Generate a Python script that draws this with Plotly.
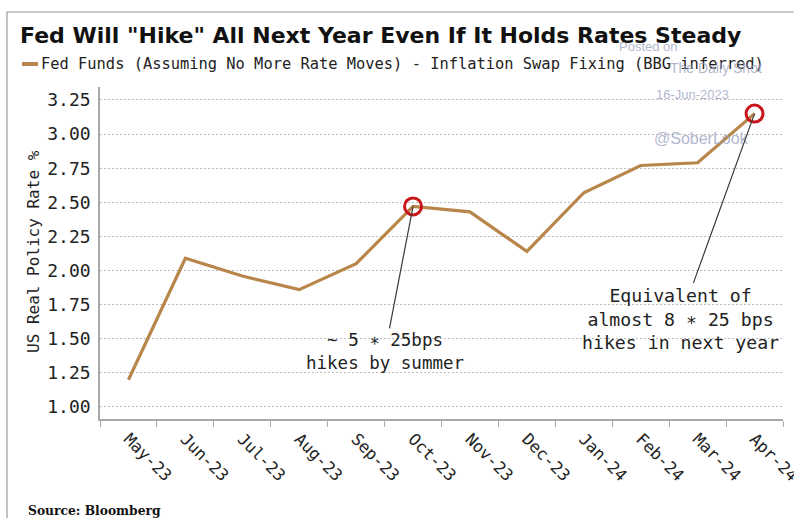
import plotly.graph_objects as go

months = ["May-23", "Jun-23", "Jul-23", "Aug-23", "Sep-23", "Oct-23",
          "Nov-23", "Dec-23", "Jan-24", "Feb-24", "Mar-24", "Apr-24"]
real_rate = [1.20, 2.09, 1.96, 1.86, 2.05, 2.47, 2.43, 2.14, 2.57, 2.77, 2.79, 3.15]
highlight_idx = [5, 11]
y_ticks = [1.00, 1.25, 1.50, 1.75, 2.00, 2.25, 2.50, 2.75, 3.00, 3.25]

W, H = 794, 518
L, R, T, B = 100, 783, 87, 419
PW, PH = R - L, B - T


def px(x):
    return (x - L) / PW


def py(y):
    return (B - y) / PH


MONO = "DejaVu Sans Mono"
LINE_COL = "#b8864a"

fig = go.Figure()
fig.add_trace(go.Scatter(
    x=months, y=real_rate, mode="lines",
    line=dict(color=LINE_COL, width=3.2),
    name="Fed Funds (Assuming No More Rate Moves) - Inflation Swap Fixing (BBG inferred)",
    showlegend=False, hoverinfo="skip"))
fig.add_trace(go.Scatter(
    x=[months[i] for i in highlight_idx], y=[real_rate[i] for i in highlight_idx],
    mode="markers",
    marker=dict(symbol="circle-open", size=17, color="#c8161d", line=dict(width=3, color="#c8161d")),
    showlegend=False, hoverinfo="skip"))

fig.update_layout(
    width=W, height=H,
    margin=dict(l=L, r=W - R, t=T, b=H - B, pad=0, autoexpand=False),
    paper_bgcolor="white", plot_bgcolor="white",
    title=dict(text='Fed Will "Hike" All Next Year Even If It Holds Rates Steady',
               x=20 / W, xanchor="left", xref="container",
               y=1 - 35 / H, yanchor="middle", yref="container",
               font=dict(family="DejaVu Sans", size=22, color="#111111", weight="bold")),
    xaxis=dict(type="category", range=[-0.5, len(months) - 0.5], automargin=False,
               showgrid=False, showline=True, linecolor="#a8a8a8", linewidth=1.5,
               ticks="outside", tickson="boundaries", ticklen=6, tickcolor="#a8a8a8",
               tickangle=45, ticklabelstandoff=2,
               tickfont=dict(family=MONO, size=16.5, color="#222222")),
    yaxis=dict(range=[0.912, 3.345], tickvals=y_ticks, automargin=False,
               ticktext=[f"{v:.2f}" for v in y_ticks],
               showgrid=True, gridcolor="#bdbdbd", griddash="2px,2px", gridwidth=1,
               showline=True, linecolor="#a8a8a8", linewidth=1.5,
               ticks="", ticklabelstandoff=4, zeroline=False,
               tickfont=dict(family=MONO, size=18, color="#222222")),
)

ann = []
# y axis title
ann.append(dict(text="US Real Policy Rate %", x=px(33), y=py(252), xref="paper", yref="paper",
                xanchor="center", yanchor="middle",
                showarrow=False, textangle=-90,
                font=dict(family=MONO, size=16, color="#222222")))
# legend text
ann.append(dict(text="Fed Funds (Assuming No More Rate Moves) - Inflation Swap Fixing (BBG inferred)",
                x=px(39), y=py(64), xref="paper", yref="paper", xanchor="left", yanchor="middle",
                showarrow=False, font=dict(family=MONO, size=15.4, color="#222222")))
# watermark
wm_col = "rgba(150,158,190,0.75)"
ann += [
    dict(text="Posted on", x=px(648), y=py(46), font=dict(family="Liberation Sans", size=13, color=wm_col)),
    dict(text="The Daily Shot", x=px(716), y=py(68), font=dict(family="Liberation Sans", size=14, color=wm_col)),
    dict(text="16-Jun-2023", x=px(692), y=py(95), font=dict(family="Liberation Sans", size=13, color=wm_col)),
    dict(text="@SoberLook", x=px(701), y=py(138), font=dict(family="Liberation Sans", size=16, color=wm_col)),
]
for a in ann[-4:]:
    a.update(xref="paper", yref="paper", showarrow=False, xanchor="center", yanchor="middle")
# callouts
ann.append(dict(text="~ 5 ∗ 25bps<br>hikes by summer", x=months[5], y=real_rate[5], xref="x", yref="y",
                showarrow=True, arrowhead=0, arrowwidth=1.2, arrowcolor="#3a3a3a",
                ax=-28, ay=145, standoff=0, align="center",
                font=dict(family=MONO, size=17.5, color="#222222")))
ann.append(dict(text="Equivalent of<br>almost 8 ∗ 25 bps<br>hikes in next year", x=months[11], y=real_rate[11],
                xref="x", yref="y",
                showarrow=True, arrowhead=0, arrowwidth=1.2, arrowcolor="#3a3a3a",
                ax=-74, ay=205, standoff=0, align="center",
                font=dict(family=MONO, size=18.2, color="#222222")))
# source
ann.append(dict(text="<b>Source: Bloomberg</b>", x=px(26), y=py(511), xref="paper", yref="paper",
                xanchor="left", yanchor="middle", showarrow=False,
                font=dict(family="DejaVu Serif", size=12.3, color="#111111")))
fig.update_layout(annotations=ann)

fig.add_shape(type="line", xref="paper", yref="paper", x0=px(22), x1=px(38), y0=py(64), y1=py(64),
              line=dict(color=LINE_COL, width=4))
fig.add_shape(type="rect", xref="paper", yref="paper", x0=px(7), x1=px(820), y0=py(12), y1=py(540),
              line=dict(color="#9a9a9a", width=1.2), layer="below")

fig.write_html("out.html")
